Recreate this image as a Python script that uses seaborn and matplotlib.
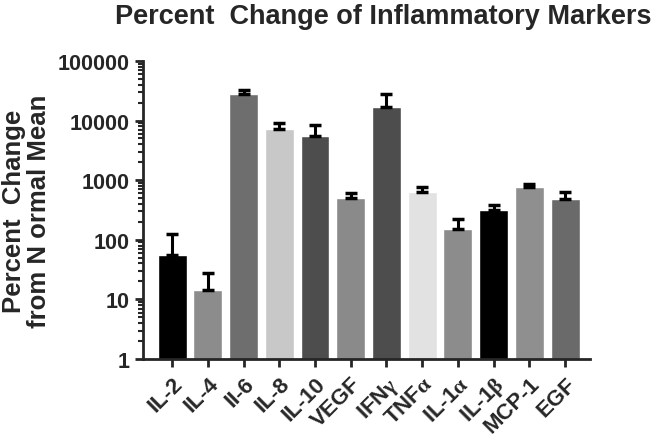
import numpy as np
import seaborn as sns
import matplotlib.pyplot as plt
from matplotlib.ticker import LogLocator, FixedLocator, FixedFormatter

# values (percent change from normal mean)
markers = ['IL-2', 'IL-4', 'II-6', 'IL-8', 'IL-10', 'VEGF', r'IFN$\gamma$',
           r'TNF$\alpha$', r'IL-1$\alpha$', r'IL-1$\beta$', 'MCP-1', 'EGF']
means = [55, 14.3, 28200, 7100, 5400, 510, 16800, 630, 150, 313, 760, 485]
err_top = [127, 27.6, 32000, 9200, 8500, 617, 28200, 762, 221, 384, 864, 644]
colors = ['#000000', '#8c8c8c', '#6e6e6e', '#c8c8c8', '#4d4d4d', '#8a8a8a',
          '#4d4d4d', '#e2e2e2', '#8c8c8c', '#000000', '#8f8f8f', '#6a6a6a']

sns.set_style('ticks')
plt.rcParams['font.family'] = ['Liberation Sans', 'DejaVu Sans']
plt.rcParams['font.weight'] = 'bold'
plt.rcParams['mathtext.fontset'] = 'custom'
plt.rcParams['mathtext.rm'] = 'Liberation Serif'
plt.rcParams['mathtext.it'] = 'Liberation Serif'

fig = plt.figure(figsize=(6.6, 4.39), dpi=100)
ax = fig.add_axes([0.217, 0.18, 0.677, 0.679])

pos = np.arange(len(markers))
sns.barplot(x=pos, y=means, hue=pos, palette=colors, legend=False,
            width=0.81, saturation=1, ax=ax, native_scale=True)
ax.set_yscale('log')
yerr = [np.zeros(len(means)), np.array(err_top) - np.array(means)]
ax.errorbar(pos, means, yerr=yerr, fmt='none', ecolor='black',
            elinewidth=2.2, capsize=4.5, capthick=2.5, zorder=1)

ax.set_ylim(1, 100000)
ax.set_xlim(-0.81, 11.7)
ax.yaxis.set_major_locator(FixedLocator([1, 10, 100, 1000, 10000, 100000]))
ax.yaxis.set_major_formatter(FixedFormatter(['1', '10', '100', '1000', '10000', '100000']))
ax.yaxis.set_minor_locator(LogLocator(base=10, subs=np.arange(2, 10)))
ax.set_xticks(pos)
ax.set_xticklabels(markers, rotation=45, ha='right', rotation_mode='anchor',
                   fontsize=16, fontweight='bold')
ax.tick_params(axis='y', labelsize=15.5, width=2, length=6)
ax.tick_params(axis='y', which='minor', width=1.5, length=3.5)
ax.tick_params(axis='x', width=2, length=6, pad=4)
for s in ['left', 'bottom']:
    ax.spines[s].set_linewidth(2)
sns.despine(ax=ax)

ax.set_ylabel('Percent  Change\nfrom N ormal Mean', fontsize=18.5,
              fontweight='bold', labelpad=5, linespacing=1.05)
fig.text(0.58, 0.962, 'Percent  Change of Inflammatory Markers',
         ha='center', va='center', fontsize=19.5, fontweight='bold')

fig.savefig('out.png', dpi=100)
